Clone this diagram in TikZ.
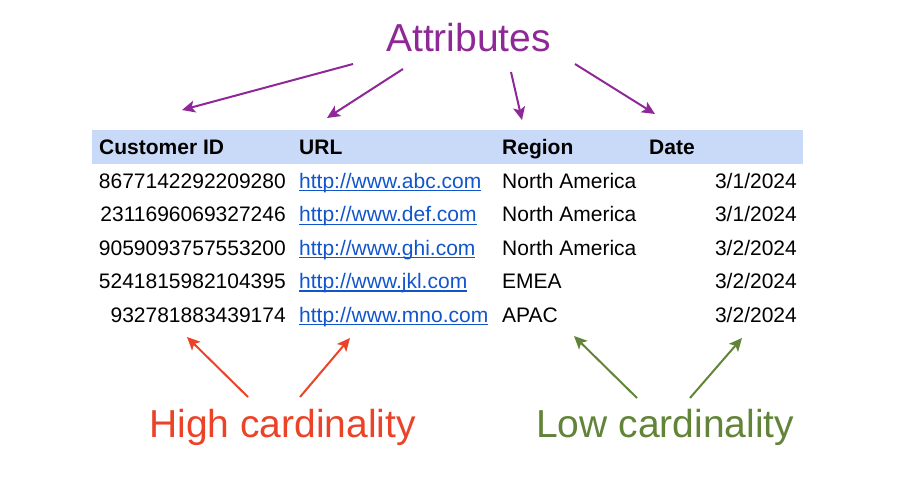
\documentclass[tikz,border=0pt]{standalone}
\usepackage{fontspec}
\setmainfont{Liberation Sans}
\usetikzlibrary{arrows.meta}

\definecolor{attrpurple}{RGB}{142,40,150}
\definecolor{highred}{RGB}{234,67,40}
\definecolor{lowgreen}{RGB}{98,132,56}
\definecolor{headblue}{RGB}{201,218,248}
\definecolor{linkblue}{RGB}{17,85,204}

\newcommand\ulink[1]{\setbox0\hbox{#1}\rlap{\rule[-3pt]{\wd0}{1.2pt}}\box0}

\begin{document}
\begin{tikzpicture}[
    x=1pt, y=-1pt,
    cell/.style={inner sep=0pt, font=\fontsize{21}{25}\selectfont},
    idcell/.style={cell, anchor=base east},
    txtcell/.style={cell, anchor=base west},
    headcell/.style={txtcell, font=\fontsize{21}{25}\selectfont\bfseries},
    link/.style={txtcell, text=linkblue},
    bigtext/.style={inner sep=0pt, anchor=base west, font=\fontsize{39}{44}\selectfont},
    arrow/.style={-{Stealth[length=13pt,width=12pt,inset=3pt]}, line width=2pt},
    attrarrow/.style={arrow, attrpurple},
    higharrow/.style={arrow, highred},
    lowarrow/.style={arrow, lowgreen}
]
    \useasboundingbox (0,0) rectangle (900,492);

    % header band
    \fill[headblue] (92,130) rectangle (803,164);

    \node[headcell] (hid) at (99,155) {Customer ID};
    \node[headcell] (hurl) at (299,155) {URL};
    \node[headcell] (hregion) at (502,155) {Region};
    \node[headcell] (hdate) at (649,155) {Date};

    % rows
    \node[idcell] (id1) at (286,188.5) {8677142292209280};
    \node[link] (url1) at (299,188.5) {\ulink{http://www.abc.com}};
    \node[txtcell] (reg1) at (502,188.5) {North America};
    \node[idcell] (date1) at (797,188.5) {3/1/2024};

    \node[idcell] (id2) at (286,222) {2311696069327246};
    \node[link] (url2) at (299,222) {\ulink{http://www.def.com}};
    \node[txtcell] (reg2) at (502,222) {North America};
    \node[idcell] (date2) at (797,222) {3/1/2024};

    \node[idcell] (id3) at (286,255) {9059093757553200};
    \node[link] (url3) at (299,255) {\ulink{http://www.ghi.com}};
    \node[txtcell] (reg3) at (502,255) {North America};
    \node[idcell] (date3) at (797,255) {3/2/2024};

    \node[idcell] (id4) at (286,288.5) {5241815982104395};
    \node[link] (url4) at (299,288.5) {\ulink{http://www.jkl.com}};
    \node[txtcell] (reg4) at (502,288.5) {EMEA};
    \node[idcell] (date4) at (797,288.5) {3/2/2024};

    \node[idcell] (id5) at (286,322) {932781883439174};
    \node[link] (url5) at (299,322) {\ulink{http://www.mno.com}};
    \node[txtcell] (reg5) at (502,322) {APAC};
    \node[idcell] (date5) at (797,322) {3/2/2024};

    % labels
    \node[bigtext, text=attrpurple] (attr) at (386,52) {Attributes};
    \node[bigtext, text=highred] (high) at (149,437) {High cardinality};
    \node[bigtext, text=lowgreen] (low) at (536,437) {Low cardinality};

    % arrow ends
    \coordinate (attr-a) at (353,64);
    \coordinate (attr-b) at (403,69);
    \coordinate (attr-c) at (511,72);
    \coordinate (attr-d) at (575,64);
    \coordinate (col-id) at (182,110);
    \coordinate (col-url) at (327,118);
    \coordinate (col-region) at (522,120);
    \coordinate (col-date) at (655,114);

    \coordinate (high-a) at (248,397);
    \coordinate (high-b) at (300,397);
    \coordinate (low-a) at (637,398);
    \coordinate (low-b) at (690,398);
    \coordinate (bot-id) at (187,337);
    \coordinate (bot-url) at (350,338);
    \coordinate (bot-region) at (574,336);
    \coordinate (bot-date) at (742,338);

    \draw[attrarrow] (attr-a) -- (col-id);
    \draw[attrarrow] (attr-b) -- (col-url);
    \draw[attrarrow] (attr-c) -- (col-region);
    \draw[attrarrow] (attr-d) -- (col-date);

    \draw[higharrow] (high-a) -- (bot-id);
    \draw[higharrow] (high-b) -- (bot-url);
    \draw[lowarrow] (low-a) -- (bot-region);
    \draw[lowarrow] (low-b) -- (bot-date);
\end{tikzpicture}
\end{document}
